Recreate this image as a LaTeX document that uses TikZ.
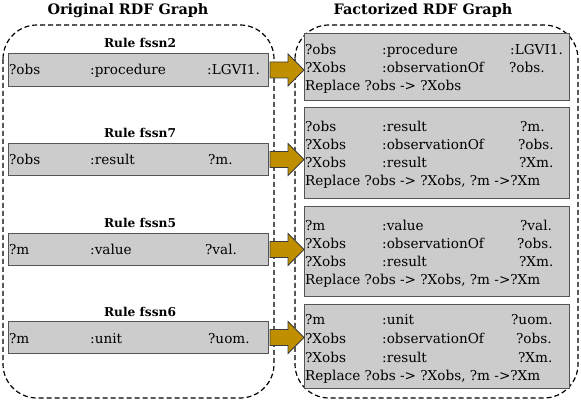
\documentclass[tikz,border=0pt]{standalone}
\usepackage{fontspec}
\setmainfont{DejaVu Serif}
\begin{document}
\begin{tikzpicture}[x=1pt,y=-1pt,
  lbox/.style={draw=boxline, fill=boxfill, line width=1pt, inner sep=0pt, anchor=north west},
  grp/.style={draw=black, line width=1.2pt, dash pattern=on 5pt off 3pt, rounded corners=34pt},
  txt/.style={anchor=base west, inner sep=0pt, font=\fontsize{13.6}{15}\selectfont},
  rulelbl/.style={anchor=base, inner sep=0pt, font=\fontsize{12.2}{14}\selectfont\bfseries},
  ttl/.style={anchor=base, inner sep=0pt, font=\fontsize{14.4}{17}\selectfont\bfseries},
  goldarrow/.style={fill=arrowgold, draw=arrowline, line width=0.8pt, line join=miter}]
\definecolor{boxfill}{RGB}{204,204,204}
\definecolor{boxline}{RGB}{85,85,85}
\definecolor{arrowgold}{RGB}{191,143,0}
\definecolor{arrowline}{RGB}{60,60,60}
\useasboundingbox (0,0) rectangle (581,403);

% titles
\node[ttl] (t1) at (128,15) {Original RDF Graph};
\node[ttl] (t2) at (423,15) {Factorized RDF Graph};

% group outlines
\draw[grp] (3,25) rectangle (274,398);
\draw[grp] (295,25) rectangle (578,398);

% left rule boxes
\node[rulelbl] (r1) at (140,48) {Rule fssn2};
\node[rulelbl] (r2) at (140,138) {Rule fssn7};
\node[rulelbl] (r3) at (140,228) {Rule fssn5};
\node[rulelbl] (r4) at (140,317) {Rule fssn6};

\node[lbox, minimum width=260pt, minimum height=33pt] (l1) at (8,53) {};
\node[lbox, minimum width=260pt, minimum height=32pt] (l2) at (8,143) {};
\node[lbox, minimum width=260pt, minimum height=32pt] (l3) at (8,233) {};
\node[lbox, minimum width=260pt, minimum height=32pt] (l4) at (8,321) {};

\node[txt] (l1a) at (9,75) {?obs};
\node[txt] (l1b) at (90,75) {:procedure};
\node[txt] (l1c) at (207,75) {:LGVI1.};
\node[txt] (l2a) at (9,165) {?obs};
\node[txt] (l2b) at (90,165) {:result};
\node[txt] (l2c) at (208,165) {?m.};
\node[txt] (l3a) at (9,255) {?m};
\node[txt] (l3b) at (90,255) {:value};
\node[txt] (l3c) at (205,255) {?val.};
\node[txt] (l4a) at (9,343) {?m};
\node[txt] (l4b) at (90,343) {:unit};
\node[txt] (l4c) at (208,343) {?uom.};

% right factorized boxes
\node[lbox, minimum width=265pt, minimum height=67pt] (f1) at (304,33) {};
\node[lbox, minimum width=265pt, minimum height=91pt] (f2) at (304,107) {};
\node[lbox, minimum width=265pt, minimum height=90pt] (f3) at (304,206) {};
\node[lbox, minimum width=265pt, minimum height=84pt] (f4) at (304,304) {};

\node[txt] (f1a) at (305,55) {?obs};
\node[txt] (f1b) at (382,55) {:procedure};
\node[txt] (f1c) at (510,55) {:LGVI1.};
\node[txt] (f1d) at (305,73) {?Xobs};
\node[txt] (f1e) at (382,73) {:observationOf};
\node[txt] (f1f) at (509,73) {?obs.};
\node[txt] (f1g) at (305,91) {Replace ?obs -> ?Xobs};

\node[txt] (f2a) at (305,132) {?obs};
\node[txt] (f2b) at (382,132) {:result};
\node[txt] (f2c) at (520,132) {?m.};
\node[txt] (f2d) at (305,150) {?Xobs};
\node[txt] (f2e) at (382,150) {:observationOf};
\node[txt] (f2f) at (518,150) {?obs.};
\node[txt] (f2g) at (305,168) {?Xobs};
\node[txt] (f2h) at (382,168) {:result};
\node[txt] (f2i) at (519,168) {?Xm.};
\node[txt] (f2j) at (305,186) {Replace ?obs -> ?Xobs, ?m ->?Xm};

\node[txt] (f3a) at (305,231) {?m};
\node[txt] (f3b) at (382,231) {:value};
\node[txt] (f3c) at (520,231) {?val.};
\node[txt] (f3d) at (305,249) {?Xobs};
\node[txt] (f3e) at (382,249) {:observationOf};
\node[txt] (f3f) at (517,249) {?obs.};
\node[txt] (f3g) at (305,267) {?Xobs};
\node[txt] (f3h) at (382,267) {:result};
\node[txt] (f3i) at (519,267) {?Xm.};
\node[txt] (f3j) at (305,285) {Replace ?obs -> ?Xobs, ?m ->?Xm};

\node[txt] (f4a) at (305,325) {?m};
\node[txt] (f4b) at (382,325) {:unit};
\node[txt] (f4c) at (511,325) {?uom.};
\node[txt] (f4d) at (305,343) {?Xobs};
\node[txt] (f4e) at (382,343) {:observationOf};
\node[txt] (f4f) at (516,343) {?obs.};
\node[txt] (f4g) at (305,362) {?Xobs};
\node[txt] (f4h) at (382,362) {:result};
\node[txt] (f4i) at (518,362) {?Xm.};
\node[txt] (f4j) at (305,380) {Replace ?obs -> ?Xobs, ?m ->?Xm};

% block arrows
\foreach \b in {l1,l2,l3,l4}{
  \draw[goldarrow] (\b.east) ++(1,-8) -- ++(18,0) -- ++(0,-8) -- ++(16,16)
     -- ++(-16,16) -- ++(0,-8) -- ++(-18,0) -- cycle;
}
\end{tikzpicture}
\end{document}
